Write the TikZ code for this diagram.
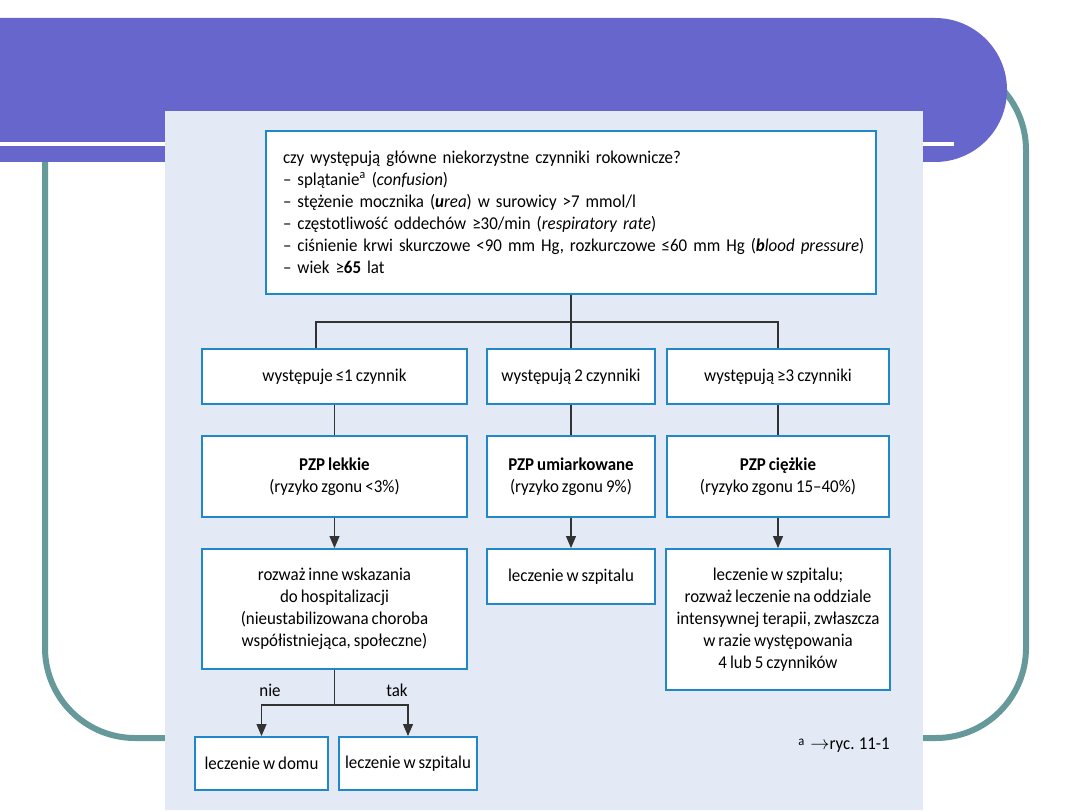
\documentclass[tikz,border=0pt]{standalone}
\usepackage{fontspec}
\setmainfont{Carlito}[FakeStretch=0.94, WordSpace=0.8]
\usetikzlibrary{arrows.meta}
\definecolor{bandpurple}{HTML}{6666CC}
\definecolor{frameteal}{HTML}{669999}
\definecolor{panelblue}{HTML}{E4EAF5}
\definecolor{boxblue}{HTML}{2088C8}
\newcommand{\txtsize}{\fontsize{13.5}{16.5}\selectfont}
\tikzset{
  fbox/.style={draw=boxblue, line width=1.4pt, fill=white, inner sep=0pt, align=center,
    font=\txtsize},
  conn/.style={draw=black!80, line width=0.8pt},
  arr/.style={conn, -{Triangle[width=7.5pt,length=9pt]}},
  lbl/.style={font=\txtsize, inner sep=0pt},
}
\begin{document}
\begin{tikzpicture}[x=0.75pt,y=0.75pt]
\useasboundingbox (0,0) rectangle (1080,810);
% slide decoration
\draw[frameteal, line width=4.5pt, rounded corners=67.5pt] (45,750) rectangle (1026,72);
\fill[bandpurple] (0,792) -- (935,792) arc[start angle=90, end angle=-90, radius=54pt] -- (0,648) -- cycle;
\fill[white] (0,664) rectangle (954,668);
\fill[panelblue] (165,0) rectangle (923,699);
% boxes
\node[fbox, align=left, text width=432pt, inner xsep=12.75pt, minimum height=122.25pt] (top) at (571,597.5) {%
czy występują główne niekorzystne czynniki rokownicze?\\
– splątanie\textsuperscript{a} (\textit{confusion})\\
– stężenie mocznika (\textbf{\textit{u}}\textit{rea}) w surowicy >7 mmol/l\\
– częstotliwość oddechów ≥30/min (\textit{respiratory rate})\\
\mbox{– ciśnienie krwi skurczowe <90 mm Hg, rozkurczowe ≤60 mm Hg (\textbf{\textit{b}}\textit{lood pressure})}\\
– wiek ≥\textbf{65} lat};
\node[fbox, minimum width=198.75pt, minimum height=41.25pt] (r2a) at (334.5,433.5) {występuje ≤1 czynnik};
\node[fbox, minimum width=126pt, minimum height=41.25pt] (r2b) at (571,433.5) {występują 2 czynniki};
\node[fbox, minimum width=166.5pt, minimum height=41.25pt] (r2c) at (778,433.5) {występują ≥3 czynniki};
\node[fbox, minimum width=198.75pt, minimum height=60.75pt] (r3a) at (334.5,333.5) {\textbf{PZP lekkie}\\(ryzyko zgonu <3\%)};
\node[fbox, minimum width=126pt, minimum height=60.75pt] (r3b) at (571,333.5) {\textbf{PZP umiarkowane}\\(ryzyko zgonu 9\%)};
\node[fbox, minimum width=166.5pt, minimum height=60.75pt] (r3c) at (778,333.5) {\textbf{PZP ciężkie}\\(ryzyko zgonu 15–40\%)};
\node[fbox, minimum width=198.75pt, minimum height=90pt] (r4a) at (334.5,201) {rozważ inne wskazania\\do hospitalizacji\\(nieustabilizowana choroba\\współistniejąca, społeczne)};
\node[fbox, minimum width=126pt, minimum height=41.25pt] (r4b) at (571,233.5) {leczenie w szpitalu};
\node[fbox, minimum width=168pt, minimum height=105.75pt] (r4c) at (778,190.5) {leczenie w szpitalu;\\rozważ leczenie na oddziale\\intensywnej terapii, zwłaszcza\\w razie występowania\\4 lub 5 czynników};
\node[fbox, minimum width=99.75pt, minimum height=39.75pt] (r5a) at (261.5,46.5) {leczenie w domu};
\node[fbox, minimum width=103.5pt, minimum height=39.75pt] (r5b) at (408,46.5) {leczenie w szpitalu};
% connectors
\coordinate (bl) at (316,488);
\coordinate (br) at (778,488);
\coordinate (jn) at (334.5,105);
\draw[conn] (top.south) -- (top.south |- r2b.north);
\draw[conn] (bl |- r2a.north) -- (bl) -- (br) -- (br |- r2c.north);
\draw[conn] (r2a.south) -- (r3a.north);
\draw[conn] (r2b.south) -- (r3b.north);
\draw[conn] (r2c.south) -- (r3c.north);
\draw[arr] (r3a.south) -- (r4a.north);
\draw[arr] (r3b.south) -- (r4b.north);
\draw[arr] (r3c.south) -- (r4c.north);
\draw[conn] (r4a.south) -- (jn);
\draw[arr] (jn) -| (r5a.north);
\draw[arr] (jn) -| (r5b.north);
\node[lbl] (nie) at (270,120) {nie};
\node[lbl] (tak) at (397,120) {tak};
\node[lbl, anchor=east] (foot) at (890,65) {\raisebox{0.45ex}{\fontsize{10}{12}\selectfont a}\, $\to$ryc. 11-1};
\end{tikzpicture}
\end{document}
